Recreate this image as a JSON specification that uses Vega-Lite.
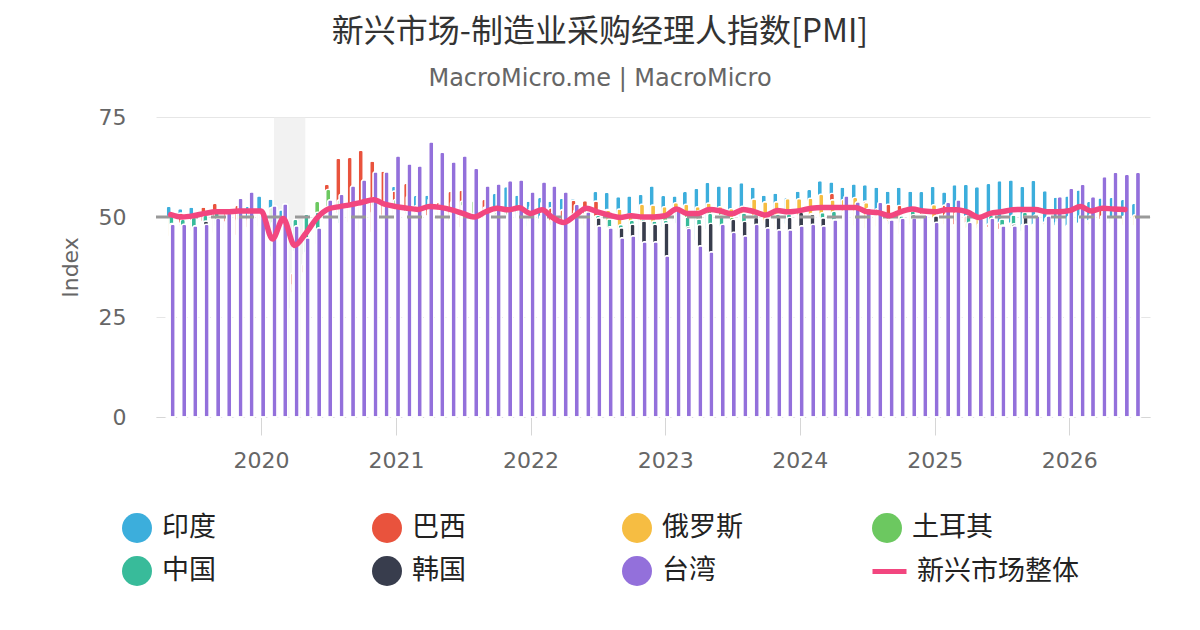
{
  "$schema": "https://vega.github.io/schema/vega-lite/v6.json",
  "width": 994,
  "height": 300,
  "autosize": "none",
  "padding": {"left": 156, "top": 117, "right": 50, "bottom": 213},
  "background": "white",
  "title": {
    "text": "新兴市场-制造业采购经理人指数[PMI]",
    "subtitle": "MacroMicro.me | MacroMicro",
    "anchor": "middle",
    "dx": -53,
    "offset": 14,
    "font": "Noto Sans CJK SC",
    "fontSize": 32,
    "fontWeight": "normal",
    "color": "#333333",
    "subtitleFont": "DejaVu Sans",
    "subtitleFontSize": 24,
    "subtitleColor": "#666666",
    "subtitlePadding": 18
  },
  "datasets": {
    "india": [
      {"month": "2019-05", "pmi": 52.7}, {"month": "2019-06", "pmi": 52.1}, {"month": "2019-07", "pmi": 52.5}, {"month": "2019-08", "pmi": 51.4},
      {"month": "2019-09", "pmi": 51.4}, {"month": "2019-10", "pmi": 50.6}, {"month": "2019-11", "pmi": 51.2}, {"month": "2019-12", "pmi": 52.7},
      {"month": "2020-01", "pmi": 55.3}, {"month": "2020-02", "pmi": 54.5}, {"month": "2020-03", "pmi": 51.8}, {"month": "2020-04", "pmi": 27.4},
      {"month": "2020-05", "pmi": 30.8}, {"month": "2020-06", "pmi": 47.2}, {"month": "2020-07", "pmi": 46.0}, {"month": "2020-08", "pmi": 52.0},
      {"month": "2020-09", "pmi": 56.8}, {"month": "2020-10", "pmi": 58.9}, {"month": "2020-11", "pmi": 56.3}, {"month": "2020-12", "pmi": 56.4},
      {"month": "2021-01", "pmi": 57.7}, {"month": "2021-02", "pmi": 57.5}, {"month": "2021-03", "pmi": 55.4}, {"month": "2021-04", "pmi": 55.5},
      {"month": "2021-05", "pmi": 50.8}, {"month": "2021-06", "pmi": 48.1}, {"month": "2021-07", "pmi": 55.3}, {"month": "2021-08", "pmi": 52.3},
      {"month": "2021-09", "pmi": 53.7}, {"month": "2021-10", "pmi": 55.9}, {"month": "2021-11", "pmi": 57.6}, {"month": "2021-12", "pmi": 55.5},
      {"month": "2022-01", "pmi": 54.0}, {"month": "2022-02", "pmi": 54.9}, {"month": "2022-03", "pmi": 54.0}, {"month": "2022-04", "pmi": 54.7},
      {"month": "2022-05", "pmi": 54.6}, {"month": "2022-06", "pmi": 53.9}, {"month": "2022-07", "pmi": 56.4}, {"month": "2022-08", "pmi": 56.2},
      {"month": "2022-09", "pmi": 55.1}, {"month": "2022-10", "pmi": 55.3}, {"month": "2022-11", "pmi": 55.7}, {"month": "2022-12", "pmi": 57.8},
      {"month": "2023-01", "pmi": 55.4}, {"month": "2023-02", "pmi": 55.3}, {"month": "2023-03", "pmi": 56.4}, {"month": "2023-04", "pmi": 57.2},
      {"month": "2023-05", "pmi": 58.7}, {"month": "2023-06", "pmi": 57.8}, {"month": "2023-07", "pmi": 57.7}, {"month": "2023-08", "pmi": 58.6},
      {"month": "2023-09", "pmi": 57.5}, {"month": "2023-10", "pmi": 55.5}, {"month": "2023-11", "pmi": 56.0}, {"month": "2023-12", "pmi": 54.9},
      {"month": "2024-01", "pmi": 56.5}, {"month": "2024-02", "pmi": 56.9}, {"month": "2024-03", "pmi": 59.1}, {"month": "2024-04", "pmi": 58.8},
      {"month": "2024-05", "pmi": 57.5}, {"month": "2024-06", "pmi": 58.3}, {"month": "2024-07", "pmi": 58.1}, {"month": "2024-08", "pmi": 57.5},
      {"month": "2024-09", "pmi": 56.5}, {"month": "2024-10", "pmi": 57.5}, {"month": "2024-11", "pmi": 56.5}, {"month": "2024-12", "pmi": 56.4},
      {"month": "2025-01", "pmi": 57.7}, {"month": "2025-02", "pmi": 56.3}, {"month": "2025-03", "pmi": 58.1}, {"month": "2025-04", "pmi": 58.2},
      {"month": "2025-05", "pmi": 57.6}, {"month": "2025-06", "pmi": 58.4}, {"month": "2025-07", "pmi": 59.1}, {"month": "2025-08", "pmi": 59.3},
      {"month": "2025-09", "pmi": 57.7}, {"month": "2025-10", "pmi": 59.2}, {"month": "2025-11", "pmi": 56.6}, {"month": "2025-12", "pmi": 55.0},
      {"month": "2026-01", "pmi": 55.3}, {"month": "2026-02", "pmi": 56.8}, {"month": "2026-03", "pmi": 53.9}, {"month": "2026-04", "pmi": 54.8},
      {"month": "2026-05", "pmi": 54.9}, {"month": "2026-06", "pmi": 54.4}, {"month": "2026-07", "pmi": 53.4}
    ],
    "brazil": [
      {"month": "2019-05", "pmi": 50.2}, {"month": "2019-06", "pmi": 51.0}, {"month": "2019-07", "pmi": 49.9}, {"month": "2019-08", "pmi": 52.5},
      {"month": "2019-09", "pmi": 53.4}, {"month": "2019-10", "pmi": 52.2}, {"month": "2019-11", "pmi": 52.9}, {"month": "2019-12", "pmi": 50.2},
      {"month": "2020-01", "pmi": 51.0}, {"month": "2020-02", "pmi": 52.3}, {"month": "2020-03", "pmi": 48.4}, {"month": "2020-04", "pmi": 36.0},
      {"month": "2020-05", "pmi": 38.3}, {"month": "2020-06", "pmi": 51.6}, {"month": "2020-07", "pmi": 58.2}, {"month": "2020-08", "pmi": 64.7},
      {"month": "2020-09", "pmi": 64.9}, {"month": "2020-10", "pmi": 66.7}, {"month": "2020-11", "pmi": 64.0}, {"month": "2020-12", "pmi": 61.5},
      {"month": "2021-01", "pmi": 56.5}, {"month": "2021-02", "pmi": 58.4}, {"month": "2021-03", "pmi": 52.8}, {"month": "2021-04", "pmi": 52.3},
      {"month": "2021-05", "pmi": 53.7}, {"month": "2021-06", "pmi": 56.4}, {"month": "2021-07", "pmi": 56.7}, {"month": "2021-08", "pmi": 53.6},
      {"month": "2021-09", "pmi": 54.4}, {"month": "2021-10", "pmi": 51.7}, {"month": "2021-11", "pmi": 49.8}, {"month": "2021-12", "pmi": 49.8},
      {"month": "2022-01", "pmi": 47.8}, {"month": "2022-02", "pmi": 49.6}, {"month": "2022-03", "pmi": 52.3}, {"month": "2022-04", "pmi": 51.8},
      {"month": "2022-05", "pmi": 54.2}, {"month": "2022-06", "pmi": 54.1}, {"month": "2022-07", "pmi": 54.0}, {"month": "2022-08", "pmi": 51.9},
      {"month": "2022-09", "pmi": 51.1}, {"month": "2022-10", "pmi": 50.8}, {"month": "2022-11", "pmi": 44.3}, {"month": "2022-12", "pmi": 44.2},
      {"month": "2023-01", "pmi": 47.5}, {"month": "2023-02", "pmi": 49.2}, {"month": "2023-03", "pmi": 47.0}, {"month": "2023-04", "pmi": 44.3},
      {"month": "2023-05", "pmi": 47.1}, {"month": "2023-06", "pmi": 46.6}, {"month": "2023-07", "pmi": 47.8}, {"month": "2023-08", "pmi": 50.1},
      {"month": "2023-09", "pmi": 49.0}, {"month": "2023-10", "pmi": 48.6}, {"month": "2023-11", "pmi": 49.4}, {"month": "2023-12", "pmi": 48.4},
      {"month": "2024-01", "pmi": 52.8}, {"month": "2024-02", "pmi": 54.1}, {"month": "2024-03", "pmi": 53.6}, {"month": "2024-04", "pmi": 55.9},
      {"month": "2024-05", "pmi": 52.1}, {"month": "2024-06", "pmi": 52.5}, {"month": "2024-07", "pmi": 54.0}, {"month": "2024-08", "pmi": 50.4},
      {"month": "2024-09", "pmi": 53.2}, {"month": "2024-10", "pmi": 52.9}, {"month": "2024-11", "pmi": 52.3}, {"month": "2024-12", "pmi": 51.6},
      {"month": "2025-01", "pmi": 50.7}, {"month": "2025-02", "pmi": 53.0}, {"month": "2025-03", "pmi": 51.8}, {"month": "2025-04", "pmi": 50.3},
      {"month": "2025-05", "pmi": 49.4}, {"month": "2025-06", "pmi": 48.3}, {"month": "2025-07", "pmi": 48.7}, {"month": "2025-08", "pmi": 47.7},
      {"month": "2025-09", "pmi": 46.5}, {"month": "2025-10", "pmi": 48.2}, {"month": "2025-11", "pmi": 48.8}, {"month": "2025-12", "pmi": 47.6},
      {"month": "2026-01", "pmi": 47.8}, {"month": "2026-02", "pmi": 48.5}, {"month": "2026-03", "pmi": 49.2}, {"month": "2026-04", "pmi": 51.8},
      {"month": "2026-05", "pmi": 48.6}, {"month": "2026-06", "pmi": 48.2}, {"month": "2026-07", "pmi": 48.0}
    ],
    "russia": [
      {"month": "2019-05", "pmi": 49.8}, {"month": "2019-06", "pmi": 48.6}, {"month": "2019-07", "pmi": 49.3}, {"month": "2019-08", "pmi": 49.1},
      {"month": "2019-09", "pmi": 46.3}, {"month": "2019-10", "pmi": 47.2}, {"month": "2019-11", "pmi": 45.6}, {"month": "2019-12", "pmi": 47.5},
      {"month": "2020-01", "pmi": 47.9}, {"month": "2020-02", "pmi": 48.2}, {"month": "2020-03", "pmi": 47.5}, {"month": "2020-04", "pmi": 31.3},
      {"month": "2020-05", "pmi": 36.2}, {"month": "2020-06", "pmi": 47.8}, {"month": "2020-07", "pmi": 48.4}, {"month": "2020-08", "pmi": 51.1},
      {"month": "2020-09", "pmi": 48.9}, {"month": "2020-10", "pmi": 46.9}, {"month": "2020-11", "pmi": 46.3}, {"month": "2020-12", "pmi": 49.7},
      {"month": "2021-01", "pmi": 50.9}, {"month": "2021-02", "pmi": 51.5}, {"month": "2021-03", "pmi": 51.1}, {"month": "2021-04", "pmi": 50.4},
      {"month": "2021-05", "pmi": 51.9}, {"month": "2021-06", "pmi": 49.2}, {"month": "2021-07", "pmi": 47.5}, {"month": "2021-08", "pmi": 46.5},
      {"month": "2021-09", "pmi": 49.8}, {"month": "2021-10", "pmi": 51.6}, {"month": "2021-11", "pmi": 51.7}, {"month": "2021-12", "pmi": 51.6},
      {"month": "2022-01", "pmi": 51.8}, {"month": "2022-02", "pmi": 48.6}, {"month": "2022-03", "pmi": 44.1}, {"month": "2022-04", "pmi": 48.2},
      {"month": "2022-05", "pmi": 50.8}, {"month": "2022-06", "pmi": 50.9}, {"month": "2022-07", "pmi": 50.3}, {"month": "2022-08", "pmi": 51.7},
      {"month": "2022-09", "pmi": 52.0}, {"month": "2022-10", "pmi": 50.7}, {"month": "2022-11", "pmi": 53.2}, {"month": "2022-12", "pmi": 53.0},
      {"month": "2023-01", "pmi": 52.6}, {"month": "2023-02", "pmi": 53.6}, {"month": "2023-03", "pmi": 53.2}, {"month": "2023-04", "pmi": 52.6},
      {"month": "2023-05", "pmi": 53.5}, {"month": "2023-06", "pmi": 52.6}, {"month": "2023-07", "pmi": 52.1}, {"month": "2023-08", "pmi": 52.7},
      {"month": "2023-09", "pmi": 54.5}, {"month": "2023-10", "pmi": 53.8}, {"month": "2023-11", "pmi": 53.8}, {"month": "2023-12", "pmi": 54.6},
      {"month": "2024-01", "pmi": 54.6}, {"month": "2024-02", "pmi": 54.7}, {"month": "2024-03", "pmi": 55.7}, {"month": "2024-04", "pmi": 54.3},
      {"month": "2024-05", "pmi": 54.4}, {"month": "2024-06", "pmi": 54.9}, {"month": "2024-07", "pmi": 53.6}, {"month": "2024-08", "pmi": 52.1},
      {"month": "2024-09", "pmi": 49.5}, {"month": "2024-10", "pmi": 50.6}, {"month": "2024-11", "pmi": 51.3}, {"month": "2024-12", "pmi": 50.8},
      {"month": "2025-01", "pmi": 53.1}, {"month": "2025-02", "pmi": 50.2}, {"month": "2025-03", "pmi": 48.2}, {"month": "2025-04", "pmi": 48.7},
      {"month": "2025-05", "pmi": 50.2}, {"month": "2025-06", "pmi": 47.5}, {"month": "2025-07", "pmi": 47.0}, {"month": "2025-08", "pmi": 48.7},
      {"month": "2025-09", "pmi": 48.2}, {"month": "2025-10", "pmi": 48.0}, {"month": "2025-11", "pmi": 48.3}, {"month": "2025-12", "pmi": 48.1},
      {"month": "2026-01", "pmi": 48.0}, {"month": "2026-02", "pmi": 48.5}, {"month": "2026-03", "pmi": 49.0}, {"month": "2026-04", "pmi": 49.5},
      {"month": "2026-05", "pmi": 50.0}, {"month": "2026-06", "pmi": 50.2}, {"month": "2026-07", "pmi": 50.6}
    ],
    "turkey": [
      {"month": "2019-05", "pmi": 45.3}, {"month": "2019-06", "pmi": 47.9}, {"month": "2019-07", "pmi": 46.7}, {"month": "2019-08", "pmi": 48.0},
      {"month": "2019-09", "pmi": 50.0}, {"month": "2019-10", "pmi": 49.0}, {"month": "2019-11", "pmi": 49.5}, {"month": "2019-12", "pmi": 49.5},
      {"month": "2020-01", "pmi": 51.3}, {"month": "2020-02", "pmi": 52.4}, {"month": "2020-03", "pmi": 48.1}, {"month": "2020-04", "pmi": 33.4},
      {"month": "2020-05", "pmi": 40.9}, {"month": "2020-06", "pmi": 53.9}, {"month": "2020-07", "pmi": 56.9}, {"month": "2020-08", "pmi": 54.3},
      {"month": "2020-09", "pmi": 52.8}, {"month": "2020-10", "pmi": 53.9}, {"month": "2020-11", "pmi": 51.4}, {"month": "2020-12", "pmi": 50.8},
      {"month": "2021-01", "pmi": 54.4}, {"month": "2021-02", "pmi": 51.7}, {"month": "2021-03", "pmi": 52.6}, {"month": "2021-04", "pmi": 50.4},
      {"month": "2021-05", "pmi": 49.3}, {"month": "2021-06", "pmi": 51.3}, {"month": "2021-07", "pmi": 54.0}, {"month": "2021-08", "pmi": 54.1},
      {"month": "2021-09", "pmi": 52.5}, {"month": "2021-10", "pmi": 51.2}, {"month": "2021-11", "pmi": 52.0}, {"month": "2021-12", "pmi": 52.1},
      {"month": "2022-01", "pmi": 50.5}, {"month": "2022-02", "pmi": 50.4}, {"month": "2022-03", "pmi": 49.4}, {"month": "2022-04", "pmi": 49.2},
      {"month": "2022-05", "pmi": 49.2}, {"month": "2022-06", "pmi": 48.1}, {"month": "2022-07", "pmi": 46.9}, {"month": "2022-08", "pmi": 47.3},
      {"month": "2022-09", "pmi": 46.9}, {"month": "2022-10", "pmi": 46.4}, {"month": "2022-11", "pmi": 45.7}, {"month": "2022-12", "pmi": 48.1},
      {"month": "2023-01", "pmi": 50.1}, {"month": "2023-02", "pmi": 50.1}, {"month": "2023-03", "pmi": 50.9}, {"month": "2023-04", "pmi": 51.5},
      {"month": "2023-05", "pmi": 51.5}, {"month": "2023-06", "pmi": 51.5}, {"month": "2023-07", "pmi": 49.9}, {"month": "2023-08", "pmi": 49.0},
      {"month": "2023-09", "pmi": 49.6}, {"month": "2023-10", "pmi": 48.4}, {"month": "2023-11", "pmi": 47.2}, {"month": "2023-12", "pmi": 47.4},
      {"month": "2024-01", "pmi": 49.2}, {"month": "2024-02", "pmi": 50.2}, {"month": "2024-03", "pmi": 50.0}, {"month": "2024-04", "pmi": 49.3},
      {"month": "2024-05", "pmi": 49.3}, {"month": "2024-06", "pmi": 47.9}, {"month": "2024-07", "pmi": 47.2}, {"month": "2024-08", "pmi": 47.8},
      {"month": "2024-09", "pmi": 44.3}, {"month": "2024-10", "pmi": 45.8}, {"month": "2024-11", "pmi": 48.3}, {"month": "2024-12", "pmi": 49.1},
      {"month": "2025-01", "pmi": 48.0}, {"month": "2025-02", "pmi": 48.3}, {"month": "2025-03", "pmi": 47.3}, {"month": "2025-04", "pmi": 47.3},
      {"month": "2025-05", "pmi": 47.2}, {"month": "2025-06", "pmi": 46.7}, {"month": "2025-07", "pmi": 45.9}, {"month": "2025-08", "pmi": 47.3},
      {"month": "2025-09", "pmi": 46.7}, {"month": "2025-10", "pmi": 46.5}, {"month": "2025-11", "pmi": 48.0}, {"month": "2025-12", "pmi": 48.9},
      {"month": "2026-01", "pmi": 48.1}, {"month": "2026-02", "pmi": 48.4}, {"month": "2026-03", "pmi": 48.2}, {"month": "2026-04", "pmi": 48.0},
      {"month": "2026-05", "pmi": 47.9}, {"month": "2026-06", "pmi": 48.1}, {"month": "2026-07", "pmi": 48.0}
    ],
    "china": [
      {"month": "2019-05", "pmi": 50.2}, {"month": "2019-06", "pmi": 49.4}, {"month": "2019-07", "pmi": 49.9}, {"month": "2019-08", "pmi": 50.4},
      {"month": "2019-09", "pmi": 51.4}, {"month": "2019-10", "pmi": 51.7}, {"month": "2019-11", "pmi": 51.8}, {"month": "2019-12", "pmi": 51.5},
      {"month": "2020-01", "pmi": 51.1}, {"month": "2020-02", "pmi": 40.3}, {"month": "2020-03", "pmi": 50.1}, {"month": "2020-04", "pmi": 49.4},
      {"month": "2020-05", "pmi": 50.7}, {"month": "2020-06", "pmi": 51.2}, {"month": "2020-07", "pmi": 52.8}, {"month": "2020-08", "pmi": 53.1},
      {"month": "2020-09", "pmi": 53.0}, {"month": "2020-10", "pmi": 53.6}, {"month": "2020-11", "pmi": 54.9}, {"month": "2020-12", "pmi": 53.0},
      {"month": "2021-01", "pmi": 51.5}, {"month": "2021-02", "pmi": 50.9}, {"month": "2021-03", "pmi": 50.6}, {"month": "2021-04", "pmi": 51.9},
      {"month": "2021-05", "pmi": 52.0}, {"month": "2021-06", "pmi": 51.3}, {"month": "2021-07", "pmi": 50.3}, {"month": "2021-08", "pmi": 49.2},
      {"month": "2021-09", "pmi": 50.0}, {"month": "2021-10", "pmi": 50.6}, {"month": "2021-11", "pmi": 49.9}, {"month": "2021-12", "pmi": 50.9},
      {"month": "2022-01", "pmi": 49.1}, {"month": "2022-02", "pmi": 50.4}, {"month": "2022-03", "pmi": 48.1}, {"month": "2022-04", "pmi": 46.0},
      {"month": "2022-05", "pmi": 48.1}, {"month": "2022-06", "pmi": 51.7}, {"month": "2022-07", "pmi": 50.4}, {"month": "2022-08", "pmi": 49.5},
      {"month": "2022-09", "pmi": 48.1}, {"month": "2022-10", "pmi": 49.2}, {"month": "2022-11", "pmi": 49.4}, {"month": "2022-12", "pmi": 49.0},
      {"month": "2023-01", "pmi": 49.2}, {"month": "2023-02", "pmi": 51.6}, {"month": "2023-03", "pmi": 50.0}, {"month": "2023-04", "pmi": 49.5},
      {"month": "2023-05", "pmi": 50.9}, {"month": "2023-06", "pmi": 50.5}, {"month": "2023-07", "pmi": 49.2}, {"month": "2023-08", "pmi": 51.0},
      {"month": "2023-09", "pmi": 50.6}, {"month": "2023-10", "pmi": 49.5}, {"month": "2023-11", "pmi": 50.7}, {"month": "2023-12", "pmi": 50.8},
      {"month": "2024-01", "pmi": 50.8}, {"month": "2024-02", "pmi": 50.9}, {"month": "2024-03", "pmi": 51.1}, {"month": "2024-04", "pmi": 51.4},
      {"month": "2024-05", "pmi": 51.7}, {"month": "2024-06", "pmi": 51.8}, {"month": "2024-07", "pmi": 49.8}, {"month": "2024-08", "pmi": 50.4},
      {"month": "2024-09", "pmi": 49.3}, {"month": "2024-10", "pmi": 50.3}, {"month": "2024-11", "pmi": 51.5}, {"month": "2024-12", "pmi": 50.5},
      {"month": "2025-01", "pmi": 50.1}, {"month": "2025-02", "pmi": 50.8}, {"month": "2025-03", "pmi": 51.2}, {"month": "2025-04", "pmi": 50.4},
      {"month": "2025-05", "pmi": 48.3}, {"month": "2025-06", "pmi": 50.4}, {"month": "2025-07", "pmi": 49.5}, {"month": "2025-08", "pmi": 50.5},
      {"month": "2025-09", "pmi": 51.2}, {"month": "2025-10", "pmi": 50.6}, {"month": "2025-11", "pmi": 49.9}, {"month": "2025-12", "pmi": 50.1},
      {"month": "2026-01", "pmi": 50.3}, {"month": "2026-02", "pmi": 50.5}, {"month": "2026-03", "pmi": 50.8}, {"month": "2026-04", "pmi": 50.4},
      {"month": "2026-05", "pmi": 50.2}, {"month": "2026-06", "pmi": 50.3}, {"month": "2026-07", "pmi": 50.1}
    ],
    "korea": [
      {"month": "2019-05", "pmi": 48.4}, {"month": "2019-06", "pmi": 47.5}, {"month": "2019-07", "pmi": 47.3}, {"month": "2019-08", "pmi": 49.0},
      {"month": "2019-09", "pmi": 48.0}, {"month": "2019-10", "pmi": 48.4}, {"month": "2019-11", "pmi": 49.4}, {"month": "2019-12", "pmi": 50.1},
      {"month": "2020-01", "pmi": 49.8}, {"month": "2020-02", "pmi": 48.7}, {"month": "2020-03", "pmi": 44.2}, {"month": "2020-04", "pmi": 41.6},
      {"month": "2020-05", "pmi": 41.3}, {"month": "2020-06", "pmi": 43.4}, {"month": "2020-07", "pmi": 46.9}, {"month": "2020-08", "pmi": 48.5},
      {"month": "2020-09", "pmi": 49.8}, {"month": "2020-10", "pmi": 51.2}, {"month": "2020-11", "pmi": 52.9}, {"month": "2020-12", "pmi": 52.9},
      {"month": "2021-01", "pmi": 53.2}, {"month": "2021-02", "pmi": 55.3}, {"month": "2021-03", "pmi": 55.3}, {"month": "2021-04", "pmi": 54.6},
      {"month": "2021-05", "pmi": 53.7}, {"month": "2021-06", "pmi": 53.9}, {"month": "2021-07", "pmi": 53.0}, {"month": "2021-08", "pmi": 51.2},
      {"month": "2021-09", "pmi": 52.4}, {"month": "2021-10", "pmi": 50.2}, {"month": "2021-11", "pmi": 50.9}, {"month": "2021-12", "pmi": 51.9},
      {"month": "2022-01", "pmi": 52.8}, {"month": "2022-02", "pmi": 53.8}, {"month": "2022-03", "pmi": 51.2}, {"month": "2022-04", "pmi": 52.1},
      {"month": "2022-05", "pmi": 51.8}, {"month": "2022-06", "pmi": 51.3}, {"month": "2022-07", "pmi": 49.8}, {"month": "2022-08", "pmi": 47.6},
      {"month": "2022-09", "pmi": 47.3}, {"month": "2022-10", "pmi": 48.2}, {"month": "2022-11", "pmi": 49.0}, {"month": "2022-12", "pmi": 48.2},
      {"month": "2023-01", "pmi": 48.5}, {"month": "2023-02", "pmi": 48.5}, {"month": "2023-03", "pmi": 47.6}, {"month": "2023-04", "pmi": 48.1},
      {"month": "2023-05", "pmi": 48.4}, {"month": "2023-06", "pmi": 47.8}, {"month": "2023-07", "pmi": 49.4}, {"month": "2023-08", "pmi": 48.9},
      {"month": "2023-09", "pmi": 49.9}, {"month": "2023-10", "pmi": 49.8}, {"month": "2023-11", "pmi": 50.0}, {"month": "2023-12", "pmi": 49.9},
      {"month": "2024-01", "pmi": 51.2}, {"month": "2024-02", "pmi": 50.7}, {"month": "2024-03", "pmi": 49.8}, {"month": "2024-04", "pmi": 49.4},
      {"month": "2024-05", "pmi": 51.6}, {"month": "2024-06", "pmi": 52.0}, {"month": "2024-07", "pmi": 51.4}, {"month": "2024-08", "pmi": 51.9},
      {"month": "2024-09", "pmi": 48.3}, {"month": "2024-10", "pmi": 48.7}, {"month": "2024-11", "pmi": 50.6}, {"month": "2024-12", "pmi": 49.0},
      {"month": "2025-01", "pmi": 50.3}, {"month": "2025-02", "pmi": 49.9}, {"month": "2025-03", "pmi": 49.1}, {"month": "2025-04", "pmi": 47.5},
      {"month": "2025-05", "pmi": 47.7}, {"month": "2025-06", "pmi": 48.7}, {"month": "2025-07", "pmi": 48.0}, {"month": "2025-08", "pmi": 48.3},
      {"month": "2025-09", "pmi": 50.2}, {"month": "2025-10", "pmi": 49.4}, {"month": "2025-11", "pmi": 49.4}, {"month": "2025-12", "pmi": 48.9},
      {"month": "2026-01", "pmi": 49.0}, {"month": "2026-02", "pmi": 49.5}, {"month": "2026-03", "pmi": 50.0}, {"month": "2026-04", "pmi": 50.0},
      {"month": "2026-05", "pmi": 50.0}, {"month": "2026-06", "pmi": 50.0}, {"month": "2026-07", "pmi": 50.0}
    ],
    "taiwan": [
      {"month": "2019-05", "pmi": 48.2}, {"month": "2019-06", "pmi": 48.2}, {"month": "2019-07", "pmi": 47.8}, {"month": "2019-08", "pmi": 48.2},
      {"month": "2019-09", "pmi": 49.7}, {"month": "2019-10", "pmi": 51.0}, {"month": "2019-11", "pmi": 54.7}, {"month": "2019-12", "pmi": 56.3},
      {"month": "2020-01", "pmi": 51.0}, {"month": "2020-02", "pmi": 52.8}, {"month": "2020-03", "pmi": 53.3}, {"month": "2020-04", "pmi": 47.8},
      {"month": "2020-05", "pmi": 44.8}, {"month": "2020-06", "pmi": 47.3}, {"month": "2020-07", "pmi": 54.3}, {"month": "2020-08", "pmi": 55.7},
      {"month": "2020-09", "pmi": 57.8}, {"month": "2020-10", "pmi": 59.3}, {"month": "2020-11", "pmi": 61.3}, {"month": "2020-12", "pmi": 61.3},
      {"month": "2021-01", "pmi": 65.3}, {"month": "2021-02", "pmi": 63.3}, {"month": "2021-03", "pmi": 62.8}, {"month": "2021-04", "pmi": 68.8},
      {"month": "2021-05", "pmi": 66.2}, {"month": "2021-06", "pmi": 63.8}, {"month": "2021-07", "pmi": 65.3}, {"month": "2021-08", "pmi": 62.2},
      {"month": "2021-09", "pmi": 57.8}, {"month": "2021-10", "pmi": 58.3}, {"month": "2021-11", "pmi": 59.1}, {"month": "2021-12", "pmi": 59.3},
      {"month": "2022-01", "pmi": 56.3}, {"month": "2022-02", "pmi": 58.8}, {"month": "2022-03", "pmi": 57.8}, {"month": "2022-04", "pmi": 56.3},
      {"month": "2022-05", "pmi": 53.2}, {"month": "2022-06", "pmi": 51.3}, {"month": "2022-07", "pmi": 47.8}, {"month": "2022-08", "pmi": 47.3},
      {"month": "2022-09", "pmi": 44.8}, {"month": "2022-10", "pmi": 45.3}, {"month": "2022-11", "pmi": 43.8}, {"month": "2022-12", "pmi": 43.8},
      {"month": "2023-01", "pmi": 40.3}, {"month": "2023-02", "pmi": 51.5}, {"month": "2023-03", "pmi": 47.2}, {"month": "2023-04", "pmi": 42.8},
      {"month": "2023-05", "pmi": 41.3}, {"month": "2023-06", "pmi": 48.2}, {"month": "2023-07", "pmi": 46.2}, {"month": "2023-08", "pmi": 45.3},
      {"month": "2023-09", "pmi": 48.2}, {"month": "2023-10", "pmi": 47.3}, {"month": "2023-11", "pmi": 46.8}, {"month": "2023-12", "pmi": 46.8},
      {"month": "2024-01", "pmi": 47.8}, {"month": "2024-02", "pmi": 48.2}, {"month": "2024-03", "pmi": 47.8}, {"month": "2024-04", "pmi": 49.3},
      {"month": "2024-05", "pmi": 55.3}, {"month": "2024-06", "pmi": 53.8}, {"month": "2024-07", "pmi": 52.2}, {"month": "2024-08", "pmi": 53.7},
      {"month": "2024-09", "pmi": 49.3}, {"month": "2024-10", "pmi": 49.7}, {"month": "2024-11", "pmi": 49.8}, {"month": "2024-12", "pmi": 50.5},
      {"month": "2025-01", "pmi": 48.7}, {"month": "2025-02", "pmi": 53.7}, {"month": "2025-03", "pmi": 54.3}, {"month": "2025-04", "pmi": 48.7},
      {"month": "2025-05", "pmi": 49.7}, {"month": "2025-06", "pmi": 49.7}, {"month": "2025-07", "pmi": 47.8}, {"month": "2025-08", "pmi": 47.8},
      {"month": "2025-09", "pmi": 48.2}, {"month": "2025-10", "pmi": 50.3}, {"month": "2025-11", "pmi": 50.3}, {"month": "2025-12", "pmi": 55.1},
      {"month": "2026-01", "pmi": 57.2}, {"month": "2026-02", "pmi": 58.2}, {"month": "2026-03", "pmi": 55.1}, {"month": "2026-04", "pmi": 60.1},
      {"month": "2026-05", "pmi": 61.2}, {"month": "2026-06", "pmi": 60.7}, {"month": "2026-07", "pmi": 61.2}
    ],
    "em": [
      {"month": "2019-05", "pmi": 50.6}, {"month": "2019-06", "pmi": 50.0}, {"month": "2019-07", "pmi": 50.3}, {"month": "2019-08", "pmi": 50.9},
      {"month": "2019-09", "pmi": 51.3}, {"month": "2019-10", "pmi": 51.3}, {"month": "2019-11", "pmi": 51.5}, {"month": "2019-12", "pmi": 51.5},
      {"month": "2020-01", "pmi": 51.5}, {"month": "2020-02", "pmi": 44.5}, {"month": "2020-03", "pmi": 49.6}, {"month": "2020-04", "pmi": 42.9},
      {"month": "2020-05", "pmi": 45.9}, {"month": "2020-06", "pmi": 49.8}, {"month": "2020-07", "pmi": 52.0}, {"month": "2020-08", "pmi": 52.6},
      {"month": "2020-09", "pmi": 53.1}, {"month": "2020-10", "pmi": 53.7}, {"month": "2020-11", "pmi": 54.3}, {"month": "2020-12", "pmi": 53.2},
      {"month": "2021-01", "pmi": 52.6}, {"month": "2021-02", "pmi": 52.2}, {"month": "2021-03", "pmi": 51.9}, {"month": "2021-04", "pmi": 52.6},
      {"month": "2021-05", "pmi": 52.4}, {"month": "2021-06", "pmi": 51.8}, {"month": "2021-07", "pmi": 50.9}, {"month": "2021-08", "pmi": 50.0},
      {"month": "2021-09", "pmi": 51.3}, {"month": "2021-10", "pmi": 52.2}, {"month": "2021-11", "pmi": 51.8}, {"month": "2021-12", "pmi": 52.3},
      {"month": "2022-01", "pmi": 50.9}, {"month": "2022-02", "pmi": 51.8}, {"month": "2022-03", "pmi": 49.9}, {"month": "2022-04", "pmi": 48.6},
      {"month": "2022-05", "pmi": 50.3}, {"month": "2022-06", "pmi": 52.2}, {"month": "2022-07", "pmi": 51.3}, {"month": "2022-08", "pmi": 50.5},
      {"month": "2022-09", "pmi": 49.9}, {"month": "2022-10", "pmi": 50.3}, {"month": "2022-11", "pmi": 50.0}, {"month": "2022-12", "pmi": 50.0},
      {"month": "2023-01", "pmi": 50.3}, {"month": "2023-02", "pmi": 52.0}, {"month": "2023-03", "pmi": 50.9}, {"month": "2023-04", "pmi": 50.9},
      {"month": "2023-05", "pmi": 51.9}, {"month": "2023-06", "pmi": 51.5}, {"month": "2023-07", "pmi": 50.8}, {"month": "2023-08", "pmi": 51.9},
      {"month": "2023-09", "pmi": 51.3}, {"month": "2023-10", "pmi": 50.5}, {"month": "2023-11", "pmi": 51.6}, {"month": "2023-12", "pmi": 51.3},
      {"month": "2024-01", "pmi": 51.6}, {"month": "2024-02", "pmi": 52.2}, {"month": "2024-03", "pmi": 52.4}, {"month": "2024-04", "pmi": 52.4},
      {"month": "2024-05", "pmi": 52.4}, {"month": "2024-06", "pmi": 52.4}, {"month": "2024-07", "pmi": 51.3}, {"month": "2024-08", "pmi": 51.1},
      {"month": "2024-09", "pmi": 50.3}, {"month": "2024-10", "pmi": 51.3}, {"month": "2024-11", "pmi": 52.0}, {"month": "2024-12", "pmi": 51.5},
      {"month": "2025-01", "pmi": 51.3}, {"month": "2025-02", "pmi": 51.8}, {"month": "2025-03", "pmi": 51.8}, {"month": "2025-04", "pmi": 51.2},
      {"month": "2025-05", "pmi": 49.9}, {"month": "2025-06", "pmi": 50.9}, {"month": "2025-07", "pmi": 51.3}, {"month": "2025-08", "pmi": 51.8},
      {"month": "2025-09", "pmi": 51.9}, {"month": "2025-10", "pmi": 51.9}, {"month": "2025-11", "pmi": 51.3}, {"month": "2025-12", "pmi": 51.3},
      {"month": "2026-01", "pmi": 51.6}, {"month": "2026-02", "pmi": 52.6}, {"month": "2026-03", "pmi": 51.5}, {"month": "2026-04", "pmi": 52.2},
      {"month": "2026-05", "pmi": 52.0}, {"month": "2026-06", "pmi": 51.9}
    ]
  },
  "layer": [
    {
      "data": {"values": [{"start": "2020-02-05", "end": "2020-04-30"}]},
      "mark": {"type": "rect", "color": "#f2f2f2"},
      "encoding": {
        "x": {"field": "start", "type": "temporal", "title": null},
        "x2": {"field": "end"},
        "y": {"datum": 0, "type": "quantitative", "title": "Index"},
        "y2": {"datum": 74.8}
      }
    },
    {
      "encoding": {
        "x": {
          "field": "month",
          "type": "temporal",
          "title": null,
          "scale": {"domain": [{"year": 2019, "month": 3, "date": 22}, {"year": 2026, "month": 8, "date": 8}], "padding": 0},
          "axis": {
            "format": "%Y",
            "tickCount": {"interval": "year", "step": 1},
            "grid": false,
            "labelFont": "DejaVu Sans",
            "labelFontSize": 22,
            "labelColor": "#666666",
            "labelPadding": 15,
            "labelFlush": false,
            "labelOverlap": false,
            "tickSize": 18,
            "tickColor": "#d6d6d6",
            "domainColor": "#d6d6d6"
          }
        },
        "y": {
          "field": "pmi",
          "type": "quantitative",
          "title": "Index",
          "scale": {"domain": [0, 75], "nice": false},
          "axis": {
            "values": [0, 25, 50, 75],
            "grid": true,
            "gridColor": "#e6e6e6",
            "domain": false,
            "ticks": false,
            "labelFont": "DejaVu Sans",
            "labelFontSize": 22,
            "labelColor": "#666666",
            "labelPadding": 30,
            "titleFont": "DejaVu Sans",
            "titleFontSize": 22,
            "titleFontWeight": "normal",
            "titleColor": "#666666",
            "titlePadding": 16
          }
        }
      },
      "layer": [
        {
          "data": {"name": "india"},
          "mark": {"type": "bar", "width": 5.2, "xOffset": -2, "opacity": 1, "cornerRadiusTopLeft": 2, "cornerRadiusTopRight": 2, "stroke": "white", "strokeWidth": 1.4},
          "encoding": {
            "color": {
              "datum": "印度",
              "type": "nominal",
              "scale": {
                "domain": ["印度", "巴西", "俄罗斯", "土耳其", "中国", "韩国", "台湾"],
                "range": ["#3caedc", "#e9533d", "#f6bd42", "#6cc860", "#38bb9a", "#383d4d", "#9370db"]
              },
              "legend": {
                "title": null,
                "orient": "none",
                "legendX": -34,
                "legendY": 396,
                "direction": "horizontal",
                "columns": 4,
                "gridAlign": "all",
                "columnPadding": 129,
                "rowPadding": 13,
                "padding": 0,
                "symbolSize": 900,
                "symbolType": "circle",
                "symbolStrokeWidth": 0,
                "symbolOpacity": 1,
                "labelFont": "Noto Sans CJK SC",
                "labelFontSize": 27,
                "labelColor": "#222222",
                "labelOffset": 10,
                "labelLimit": 300
              }
            }
          }
        },
        {
          "data": {"name": "brazil"},
          "mark": {"type": "bar", "width": 5.2, "xOffset": -1.33, "opacity": 1, "cornerRadiusTopLeft": 2, "cornerRadiusTopRight": 2, "stroke": "white", "strokeWidth": 1.4},
          "encoding": {"color": {"datum": "巴西", "type": "nominal"}}
        },
        {
          "data": {"name": "russia"},
          "mark": {"type": "bar", "width": 5.2, "xOffset": -0.67, "opacity": 1, "cornerRadiusTopLeft": 2, "cornerRadiusTopRight": 2, "stroke": "white", "strokeWidth": 1.4},
          "encoding": {"color": {"datum": "俄罗斯", "type": "nominal"}}
        },
        {
          "data": {"name": "turkey"},
          "mark": {"type": "bar", "width": 5.2, "xOffset": 0, "opacity": 1, "cornerRadiusTopLeft": 2, "cornerRadiusTopRight": 2, "stroke": "white", "strokeWidth": 1.4},
          "encoding": {"color": {"datum": "土耳其", "type": "nominal"}}
        },
        {
          "data": {"name": "china"},
          "mark": {"type": "bar", "width": 5.2, "xOffset": 0.67, "opacity": 1, "cornerRadiusTopLeft": 2, "cornerRadiusTopRight": 2, "stroke": "white", "strokeWidth": 1.4},
          "encoding": {"color": {"datum": "中国", "type": "nominal"}}
        },
        {
          "data": {"name": "korea"},
          "mark": {"type": "bar", "width": 5.2, "xOffset": 1.33, "opacity": 1, "cornerRadiusTopLeft": 2, "cornerRadiusTopRight": 2, "stroke": "white", "strokeWidth": 1.4},
          "encoding": {"color": {"datum": "韩国", "type": "nominal"}}
        },
        {
          "data": {"name": "taiwan"},
          "mark": {"type": "bar", "width": 5.2, "xOffset": 2, "opacity": 1, "cornerRadiusTopLeft": 2, "cornerRadiusTopRight": 2, "stroke": "white", "strokeWidth": 1.4},
          "encoding": {"color": {"datum": "台湾", "type": "nominal"}}
        }
      ]
    },
    {
      "data": {"values": [{"level": 50}]},
      "mark": {"type": "rule", "color": "#999999", "strokeWidth": 3, "strokeDash": [15, 13]},
      "encoding": {"y": {"field": "level", "type": "quantitative", "title": "Index"}}
    },
    {
      "data": {"name": "em"},
      "mark": {"type": "line", "strokeWidth": 5.5, "opacity": 1, "interpolate": "monotone", "strokeCap": "round", "strokeJoin": "round"},
      "encoding": {
        "x": {"field": "month", "type": "temporal", "title": null},
        "y": {"field": "pmi", "type": "quantitative", "title": "Index"},
        "stroke": {
          "datum": "新兴市场整体",
          "type": "nominal",
          "scale": {"domain": ["新兴市场整体"], "range": ["#f2467f"]},
          "legend": {
            "title": null,
            "orient": "none",
            "legendX": 714,
            "legendY": 435,
            "padding": 0,
            "symbolType": "stroke",
            "symbolSize": 1156,
            "symbolStrokeWidth": 5,
            "labelFont": "Noto Sans CJK SC",
            "labelFontSize": 27,
            "labelColor": "#222222",
            "labelOffset": 8,
            "labelLimit": 300
          }
        }
      }
    }
  ],
  "config": {
    "view": {"stroke": null},
    "font": "DejaVu Sans"
  }
}
